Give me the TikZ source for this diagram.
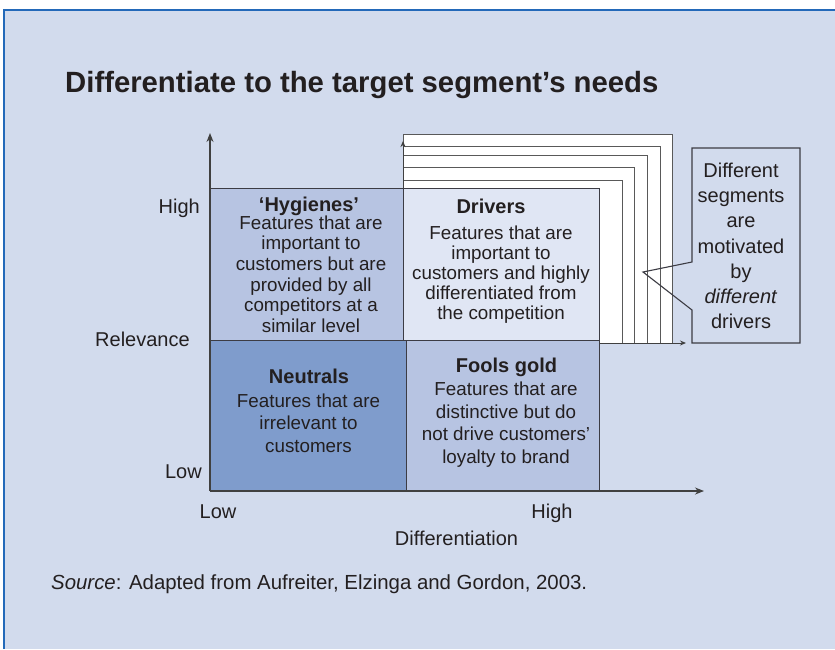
\documentclass[tikz,border=0pt]{standalone}
\usepackage{fontspec}
\setmainfont{Liberation Sans}
\usetikzlibrary{arrows.meta,positioning,calc}

\definecolor{panelbg}{RGB}{210,219,237}
\definecolor{framebl}{RGB}{35,105,185}
\definecolor{quadmid}{RGB}{183,196,226}
\definecolor{quaddark}{RGB}{127,156,204}
\definecolor{quadlight}{RGB}{224,230,244}
\definecolor{edgegray}{RGB}{60,60,68}
\definecolor{txt}{RGB}{35,31,32}

\begin{document}
\begin{tikzpicture}[x=1pt,y=-1pt,
  quad/.style={draw=edgegray, line width=1.3pt, rectangle, inner sep=0pt, anchor=north west},
  layerbox/.style={draw=black!65, fill=white, line width=1pt},
  head/.style={font=\fontsize{20}{24}\selectfont\bfseries, anchor=base, text=txt, inner sep=0pt},
  body/.style={font=\fontsize{18.8}{#1}\selectfont, align=center, anchor=north, text=txt, inner sep=0pt},
  body/.default=20.6,
  lbl/.style={font=\fontsize{20}{24}\selectfont, text=txt, inner sep=0pt},
  axis/.style={-{Stealth[length=9pt,width=7pt]}, line width=1.3pt, draw=black!75},
  miniaxis/.style={-{Stealth[length=6pt,width=5pt]}, line width=1pt, draw=black!75}]
\useasboundingbox (0,0) rectangle (835,649);
% Panel
\fill[panelbg] (4,10) rectangle (835,649);
\draw[framebl, line width=2.5pt] (4,649) -- (4,10) -- (835,10);
\node[font=\fontsize{29.3}{34}\selectfont\bfseries, anchor=base west, text=txt, inner sep=0pt] (title) at (65,92) {Differentiate to the target segment’s needs};
% Stacked segment layers behind the drivers cell
\foreach \t/\r in {134/672,146/660,155/647,167/634,180/622} {
  \draw[layerbox] (403,343) rectangle (\r,\t);
}
\coordinate (lorg) at (403,343);
\coordinate (ltop) at (403,141);
\coordinate (lright) at (686,343);
\draw[miniaxis] (lorg) -- (ltop);
\draw[miniaxis] (lorg) -- (lright);
% Quadrants
\node[quad, fill=quadmid, minimum width=193pt, minimum height=152pt] (hyg) at (210,188) {};
\node[quad, fill=quadlight, minimum width=196pt, minimum height=152pt] (drv) at (403,188) {};
\node[quad, fill=quaddark, minimum width=196pt, minimum height=151pt] (neu) at (210,340) {};
\node[quad, fill=quadmid, minimum width=193pt, minimum height=151pt] (fool) at (406,340) {};
% Axes
\coordinate (origin) at (210,491);
\coordinate (yend) at (210,133);
\coordinate (xend) at (704,491);
\draw[axis] (origin) -- (yend);
\draw[axis] (origin) -- (xend);
% Cell texts
\node[head] (hyghead) at (309,211) {‘Hygienes’};
\node[body] (hygtext) at (311,215.5) {Features that are\\important to\\customers but are\\provided by all\\competitors at a\\similar level};
\node[head] (drvhead) at (491,213) {Drivers};
\node[body=20] (drvtext) at (501,225.5) {Features that are\\important to\\customers and highly\\differentiated from\\the competition};
\node[head] (neuhead) at (309,383) {Neutrals};
\node[body=22.5] (neutext) at (308.5,393.5) {Features that are\\irrelevant to\\customers};
\node[head] (foolhead) at (506.5,372) {Fools gold};
\node[body=22.7] (fooltext) at (506,381.5) {Features that are\\distinctive but do\\not drive customers’\\loyalty to brand};
% Axis labels
\node[lbl, anchor=base east] (yhigh) at (200,213) {High};
\node[lbl, anchor=base west] (ylab) at (95,346) {Relevance};
\node[lbl, anchor=base east] (ylow) at (202,478) {Low};
\node[lbl, anchor=base] (xlow) at (218,518) {Low};
\node[lbl, anchor=base] (xhigh) at (552,518) {High};
\node[lbl, anchor=base] (xlab) at (456.5,545) {Differentiation};
% Callout
\coordinate (tip) at (643,272);
\draw[edgegray, line width=1.1pt] (692,148) -- (800,148) -- (800,343) -- (692,343) -- (692,310) -- (tip) -- (692,262) -- cycle;
\node[font=\fontsize{20}{25.2}\selectfont, align=center, anchor=north, text=txt, inner sep=0pt] (callout) at (741,162.7) {Different\\segments\\are\\motivated\\by\\\textit{different}\\drivers};
% Source
\node[font=\fontsize{20.4}{24}\selectfont, anchor=base west, text=txt, inner sep=0pt] (source) at (51,589) {\textit{Source}: Adapted from Aufreiter, Elzinga and Gordon, 2003.};
\end{tikzpicture}
\end{document}
